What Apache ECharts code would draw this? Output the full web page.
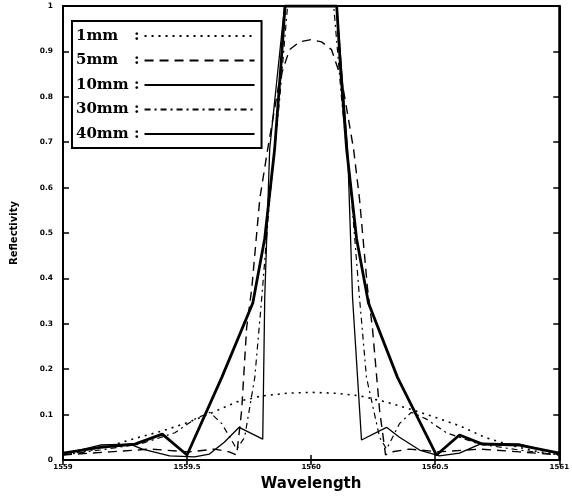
<!DOCTYPE html>
<html>
<head>
<meta charset="utf-8">
<script src="https://cdn.jsdelivr.net/npm/echarts@6/dist/echarts.min.js"></script>
<style>
	html,body{margin:0;padding:0;background:#fff;}
	#main{width:572px;height:497px;}
</style>
</head>
<body>
<div id="main"></div>
<script>
	// 图例名称
	var names = ['1mm', '5mm', '10mm', '30mm', '40mm'];

	// 1mm
	var wl1 = [1559, 1559.1, 1559.2, 1559.3, 1559.4, 1559.5, 1559.6, 1559.7, 1559.8, 1559.9, 1560, 1560.1, 1560.2, 1560.3, 1560.4, 1560.5, 1560.6, 1560.7, 1560.8, 1560.9, 1561];
	var r1 = [0.012, 0.02, 0.033, 0.049, 0.064, 0.082, 0.104, 0.128, 0.141, 0.147, 0.149, 0.147, 0.141, 0.128, 0.112, 0.094, 0.075, 0.05, 0.033, 0.02, 0.012];

	// 5mm
	var wl5 = [1559, 1559.19, 1559.35, 1559.51, 1559.61, 1559.67, 1559.70, 1559.72, 1559.74, 1559.761, 1559.793, 1559.825, 1559.873, 1559.913, 1559.954, 1560, 1560.042, 1560.082, 1560.123, 1560.171, 1560.195, 1560.227, 1560.247, 1560.276, 1560.30, 1560.324, 1560.396, 1560.517, 1560.678, 1560.839, 1561];
	var r5 = [0.011, 0.018, 0.024, 0.018, 0.024, 0.018, 0.011, 0.109, 0.291, 0.379, 0.575, 0.685, 0.838, 0.904, 0.921, 0.926, 0.921, 0.904, 0.838, 0.685, 0.575, 0.379, 0.291, 0.109, 0.011, 0.018, 0.024, 0.018, 0.024, 0.018, 0.011];

	// 10mm
	var wl10 = [1559, 1559.15, 1559.27, 1559.32, 1559.43, 1559.53, 1559.59, 1559.65, 1559.71, 1559.805, 1559.813, 1559.833, 1559.893, 1560.103, 1560.147, 1560.167, 1560.203, 1560.304, 1560.356, 1560.437, 1560.517, 1560.598, 1560.69, 1560.84, 1561];
	var r10 = [0.013, 0.033, 0.035, 0.024, 0.009, 0.007, 0.013, 0.039, 0.072, 0.046, 0.357, 0.685, 1.0, 1.0, 0.685, 0.357, 0.044, 0.072, 0.05, 0.022, 0.009, 0.015, 0.037, 0.035, 0.013];

	// 30mm
	var wl30 = [1559, 1559.149, 1559.31, 1559.451, 1559.531, 1559.592, 1559.64, 1559.70, 1559.732, 1559.773, 1559.801, 1559.833, 1559.873, 1559.905, 1560.091, 1560.123, 1560.163, 1560.195, 1560.223, 1560.276, 1560.304, 1560.356, 1560.404, 1560.465, 1560.545, 1560.678, 1560.839, 1561];
	var r30 = [0.011, 0.022, 0.035, 0.06, 0.09, 0.105, 0.08, 0.024, 0.05, 0.182, 0.357, 0.575, 0.794, 1.0, 1.0, 0.794, 0.575, 0.357, 0.182, 0.05, 0.024, 0.08, 0.105, 0.09, 0.06, 0.035, 0.022, 0.011];

	// 40mm
	var wl40 = [1559, 1559.15, 1559.29, 1559.40, 1559.50, 1559.64, 1559.765, 1559.813, 1559.853, 1559.877, 1559.895, 1560.103, 1560.119, 1560.143, 1560.183, 1560.231, 1560.348, 1560.505, 1560.598, 1560.69, 1560.84, 1561];
	var r40 = [0.015, 0.028, 0.035, 0.057, 0.011, 0.182, 0.346, 0.488, 0.685, 0.86, 1.0, 1.0, 0.86, 0.685, 0.488, 0.346, 0.182, 0.011, 0.055, 0.035, 0.033, 0.015];

	// 坐标轴刻度
	var xTicks = [1559, 1559.5, 1560, 1560.5, 1561];
	var yTicks = [0, 0.1, 0.2, 0.3, 0.4, 0.5, 0.6, 0.7, 0.8, 0.9, 1];

	function pairs(xs, ys){
		var out = [];
		for(var i=0;i<xs.length;i++){
			out.push([xs[i], ys[i]]);
		}
		return out;
	}

	var styles = [
		{width:1.6, type:[2,5]},
		{width:1.4, type:[9,6]},
		{width:1.3, type:'solid'},
		{width:1.2, type:[6,4,2,4]},
		{width:2.8, type:'solid'}
	];
	var xs = [wl1, wl5, wl10, wl30, wl40];
	var ys = [r1, r5, r10, r30, r40];

	var series = [];
	for(var i=0;i<names.length;i++){
		series.push({
			name:names[i],
			type:'line',
			symbol:'none',
			data:pairs(xs[i], ys[i]),
			lineStyle:{color:'#000', width:styles[i].width, type:styles[i].type},
			itemStyle:{color:'#000', opacity:0}
		});
	}

	var myChart = echarts.init(document.getElementById('main'));
	var option = {
		animation:false,
		backgroundColor:'#fff',
		grid:{left:63, right:12, top:6, bottom:34, show:true, borderColor:'#000', borderWidth:2},
		legend:{
			data:names,
			orient:'vertical',
			align:'right',
			left:72,
			top:21,
			padding:[7,6,6,4],
			itemGap:8.5,
			itemWidth:110,
			itemHeight:14,
			borderColor:'#000',
			borderWidth:2,
			backgroundColor:'#fff',
			itemStyle:{opacity:0},
			formatter:function(name){
				return '{a|' + name + '}{b|:}';
			},
			textStyle:{
				color:'#000',
				lineHeight:16,
				rich:{
					a:{fontFamily:'DejaVu Serif', fontWeight:'bold', fontSize:15, width:58, align:'left', color:'#000'},
					b:{fontFamily:'DejaVu Serif', fontWeight:'bold', fontSize:15, color:'#000'}
				}
			}
		},
		xAxis:[{
			type:'value',
			min:1559,
			max:1561,
			interval:0.5,
			name:'Wavelength',
			nameLocation:'middle',
			nameGap:17,
			nameTextStyle:{fontFamily:'DejaVu Sans', fontWeight:'bold', fontSize:15, color:'#000'},
			axisLine:{lineStyle:{color:'#000', width:2}},
			axisTick:{inside:true, length:5, lineStyle:{color:'#000', width:1.5}},
			axisLabel:{
				margin:4,
				fontFamily:'DejaVu Sans', fontWeight:'bold', fontSize:7, color:'#000',
				formatter:function(v){
					return xTicks.indexOf(v) >= 0 ? String(v) : '';
				}
			},
			splitLine:{show:false}
		},{
			type:'value',
			position:'top',
			min:1559,
			max:1561,
			interval:0.5,
			axisLine:{lineStyle:{color:'#000', width:2}},
			axisTick:{inside:true, length:5, lineStyle:{color:'#000', width:1.5}},
			axisLabel:{show:false},
			splitLine:{show:false}
		}],
		yAxis:[{
			type:'value',
			min:0,
			max:1,
			interval:0.1,
			name:'Reflectivity',
			nameLocation:'middle',
			nameGap:44,
			nameTextStyle:{fontFamily:'DejaVu Sans', fontWeight:'bold', fontSize:10, color:'#000'},
			axisLine:{lineStyle:{color:'#000', width:2}},
			axisTick:{inside:true, length:6, lineStyle:{color:'#000', width:1.5}},
			axisLabel:{
				margin:10,
				fontFamily:'DejaVu Sans', fontWeight:'bold', fontSize:7.5, color:'#000',
				formatter:function(v){
					var t = Math.round(v*10)/10;
					return yTicks.indexOf(t) >= 0 ? (t === 0 || t === 1 ? String(t) : t.toFixed(1)) : '';
				}
			},
			splitLine:{show:false}
		},{
			type:'value',
			position:'right',
			min:0,
			max:1,
			interval:0.1,
			axisLine:{lineStyle:{color:'#000', width:2}},
			axisTick:{inside:true, length:6, lineStyle:{color:'#000', width:1.5}},
			axisLabel:{show:false},
			splitLine:{show:false}
		}],
		series:series
	};
	myChart.setOption(option);
</script>
</body>
</html>
